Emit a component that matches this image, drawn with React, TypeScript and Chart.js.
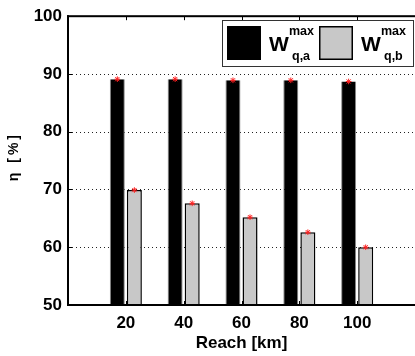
import React, { useEffect, useRef } from 'react';
import { Chart, registerables } from 'chart.js';

Chart.register(...registerables);

const REACH_KM = [20, 40, 60, 80, 100];
const ETA_A = [89.1, 89.1, 88.9, 88.9, 88.7];
const ETA_B = [69.9, 67.6, 65.2, 62.6, 60.0];
const Y_TICKS = [50, 60, 70, 80, 90, 100];
const X_RANGE = [0, 120];
const Y_RANGE = [50, 100];
const SERIES_NAMES = ['W_{q,a}^{max}', 'W_{q,b}^{max}'];
const X_TITLE = 'Reach [km]';
const Y_TITLE = 'η [%]';

const FONT = "'Liberation Sans', Arial, Helvetica, sans-serif";
const COLOR_A = '#000000';
const COLOR_B = '#c8c8c8';

function drawStar(ctx: CanvasRenderingContext2D, x: number, y: number) {
  const r = 2.8;
  ctx.save();
  ctx.strokeStyle = '#ff2020';
  ctx.lineWidth = 1;
  ctx.beginPath();
  ctx.moveTo(x - r, y); ctx.lineTo(x + r, y);
  ctx.moveTo(x, y - r); ctx.lineTo(x, y + r);
  const d = r * 0.75;
  ctx.moveTo(x - d, y - d); ctx.lineTo(x + d, y + d);
  ctx.moveTo(x - d, y + d); ctx.lineTo(x + d, y - d);
  ctx.stroke();
  ctx.restore();
}

function parseName(n: string) {
  const m = n.match(/^(\w+)_\{(.+?)\}\^\{(.+?)\}$/);
  if (!m) return { base: n, sub: '', sup: '' };
  return { base: m[1], sub: m[2], sup: m[3] };
}

const framePlugin = {
  id: 'matlabFrame',
  beforeDatasetsDraw(chart: any) {
    const { ctx, chartArea } = chart;
    const ys = chart.scales.y;
    ctx.save();
    ctx.strokeStyle = '#222';
    ctx.lineWidth = 1;
    ctx.setLineDash([1, 3]);
    Y_TICKS.forEach((v) => {
      if (v === Y_RANGE[0] || v === Y_RANGE[1]) return;
      const y = Math.round(ys.getPixelForValue(v)) + 0.5;
      ctx.beginPath();
      ctx.moveTo(chartArea.left, y);
      ctx.lineTo(chartArea.right, y);
      ctx.stroke();
    });
    ctx.restore();
  },
  afterDatasetsDraw(chart: any) {
    const { ctx, chartArea } = chart;
    const { left, right, top, bottom } = chartArea;
    const xs = chart.scales.x;
    const ys = chart.scales.y;
    // stars at bar tops
    [0, 1].forEach((i) => {
      chart.getDatasetMeta(i).data.forEach((el: any) => drawStar(ctx, el.x, el.y));
    });
    ctx.save();
    ctx.fillStyle = '#000';
    // axes lines
    ctx.fillRect(left - 1, top - 1, 2, bottom - top + 2);
    ctx.fillRect(left - 1, bottom - 1, right - left + 2, 2);
    ctx.fillRect(left - 1, top - 1, right - left + 2, 2);
    // inward ticks
    ctx.strokeStyle = '#000';
    ctx.lineWidth = 1;
    ctx.beginPath();
    REACH_KM.forEach((v) => {
      const x = Math.round(xs.getPixelForValue(v)) + 0.5;
      ctx.moveTo(x, bottom); ctx.lineTo(x, bottom - 4);
      ctx.moveTo(x, top); ctx.lineTo(x, top + 4);
    });
    Y_TICKS.forEach((v) => {
      const y = Math.round(ys.getPixelForValue(v)) + 0.5;
      ctx.moveTo(left, y); ctx.lineTo(left + 4, y);
    });
    ctx.stroke();

    // legend
    const bx = 222.5, by = 20.5, bw = 191, bh = 46;
    ctx.fillStyle = '#fff';
    ctx.fillRect(bx, by, bw, bh);
    ctx.strokeStyle = '#333';
    ctx.lineWidth = 1;
    ctx.strokeRect(bx, by, bw, bh);
    const colors = [COLOR_A, COLOR_B];
    const itemX = [227, 319];
    SERIES_NAMES.forEach((name, i) => {
      const x0 = itemX[i];
      ctx.fillStyle = colors[i];
      ctx.fillRect(x0, 26, 34, 34);
      if (i === 1) {
        ctx.strokeStyle = '#000';
        ctx.lineWidth = 1.5;
        ctx.strokeRect(x0 + 0.75, 26.75, 32.5, 32.5);
      }
      const p = parseName(name);
      ctx.fillStyle = '#000';
      ctx.textAlign = 'left';
      ctx.textBaseline = 'alphabetic';
      ctx.font = `bold 21px ${FONT}`;
      ctx.fillText(p.base, x0 + 42, 51);
      ctx.font = `bold 12.5px ${FONT}`;
      ctx.fillText(p.sup, x0 + 62, 34.5);
      ctx.fillText(p.sub, x0 + 65, 60);
    });

    // y title
    ctx.save();
    ctx.translate(14, (top + bottom) / 2 - 4);
    ctx.rotate(-Math.PI / 2);
    ctx.font = `bold 14px ${FONT}`;
    (ctx as any).letterSpacing = '3px';
    ctx.textAlign = 'center';
    ctx.textBaseline = 'middle';
    ctx.fillStyle = '#000';
    ctx.fillText(Y_TITLE, 0, 0);
    ctx.restore();

    // x title
    ctx.font = `bold 17px ${FONT}`;
    ctx.textAlign = 'center';
    ctx.textBaseline = 'alphabetic';
    ctx.fillStyle = '#000';
    ctx.fillText(X_TITLE, (left + right) / 2 + 0, 348);
    ctx.restore();
  },
};

export default function App() {
  const ref = useRef<HTMLCanvasElement | null>(null);
  useEffect(() => {
    if (!ref.current) return;
    const chart = new Chart(ref.current, {
      type: 'bar',
      data: {
        datasets: [
          {
            label: SERIES_NAMES[0],
            data: REACH_KM.map((x, i) => ({ x, y: ETA_A[i] })),
            backgroundColor: COLOR_A,
            borderColor: '#8a8a8a',
            borderWidth: { left: 1, right: 1, top: 0, bottom: 0 },
            borderSkipped: false,
            categoryPercentage: 0.59,
            barPercentage: 0.88,
          },
          {
            label: SERIES_NAMES[1],
            data: REACH_KM.map((x, i) => ({ x, y: ETA_B[i] })),
            backgroundColor: COLOR_B,
            borderColor: '#000',
            borderWidth: 1.5,
            borderSkipped: 'bottom',
            categoryPercentage: 0.59,
            barPercentage: 0.88,
          },
        ],
      } as any,
      options: {
        animation: false,
        responsive: false,
        devicePixelRatio: 1,
        layout: { padding: { left: 0, top: 14, right: 0, bottom: 0 } },
        plugins: { legend: { display: false }, tooltip: { enabled: false } },
        scales: {
          x: {
            type: 'linear',
            min: X_RANGE[0],
            max: X_RANGE[1],
            offset: false,
            grid: { display: false, drawTicks: false, offset: false },
            border: { display: false },
            afterBuildTicks: (s: any) => {
              s.ticks = REACH_KM.map((v) => ({ value: v }));
            },
            afterFit: (s: any) => {
              s.height = 51;
            },
            ticks: {
              padding: 8,
              color: '#000',
              font: { family: FONT, size: 17, weight: 'bold' },
              maxRotation: 0,
              autoSkip: false,
            },
          },
          y: {
            type: 'linear',
            min: Y_RANGE[0],
            max: Y_RANGE[1],
            grid: { display: false, drawTicks: false },
            border: { display: false },
            afterBuildTicks: (s: any) => {
              s.ticks = Y_TICKS.map((v) => ({ value: v }));
            },
            afterFit: (s: any) => {
              s.width = 68;
            },
            ticks: {
              padding: 6,
              color: '#000',
              font: { family: FONT, size: 17, weight: 'bold' },
            },
          },
        },
      } as any,
      plugins: [framePlugin],
    });
    return () => chart.destroy();
  }, []);
  return (
    <div style={{ position: 'absolute', left: 0, top: 0, width: 415, height: 356, background: '#fff' }}>
      <canvas ref={ref} width={415} height={356} style={{ display: 'block' }} />
    </div>
  );
}
